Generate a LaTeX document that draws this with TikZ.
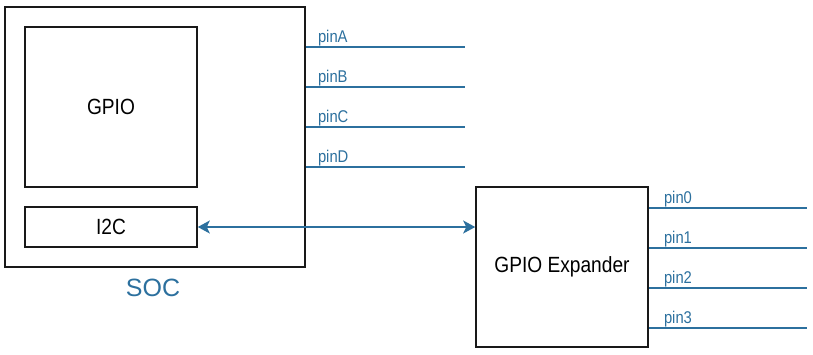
\documentclass[tikz,border=0pt]{standalone}
\usepackage{fontspec}
\setmainfont{Liberation Sans}
\usetikzlibrary{arrows.meta}
\definecolor{pinblue}{RGB}{44,112,158}
\newcommand{\narrow}[1]{\scalebox{0.87}[1]{#1}}
\tikzset{
  blk/.style={draw=black!90, line width=1.6pt, inner sep=0pt},
  blktext/.style={font=\fontsize{22}{24}\selectfont},
  pinline/.style={draw=pinblue, line width=1.6pt},
  pinlabel/.style={text=pinblue, font=\fontsize{17}{19}\selectfont, anchor=base west, inner sep=0pt},
  busarrow/.style={draw=pinblue, line width=1.6pt, {Stealth[length=12pt,width=13pt,inset=3pt]}-{Stealth[length=12pt,width=13pt,inset=3pt]}}
}
\begin{document}
\begin{tikzpicture}[x=1pt,y=-1pt]
\useasboundingbox (0,0) rectangle (813,354);
\node[blk, minimum width=300pt, minimum height=260pt] (soc) at (155,137) {};
\node[blk, minimum width=172pt, minimum height=160pt] (gpio) at (111,107) {};
\node[blktext] (gpiot) at (gpio.center) {\narrow{GPIO}};
\node[blk, minimum width=172pt, minimum height=40pt] (i2c) at (111,227) {};
\node[blktext] (i2ct) at (i2c.center) {\narrow{I2C}};
\node[text=pinblue, font=\fontsize{25}{27}\selectfont] (soct) at (153,288) {SOC};
\node[blk, minimum width=172pt, minimum height=160pt] (exp) at (562,267) {};
\node[blktext] (expt) at (exp.center) {\narrow{GPIO Expander}};
% SOC pins
\coordinate (pA) at (465,47);
\coordinate (pB) at (465,87);
\coordinate (pC) at (465,127);
\coordinate (pD) at (465,167);
\foreach \p/\t in {pA/pinA,pB/pinB,pC/pinC,pD/pinD}{
  \draw[pinline] (soc.east |- \p) -- (\p);
  \node[pinlabel] (l\p) at ([xshift=12pt,yshift=4.5pt]soc.east |- \p) {\narrow{\t}};
}
% Expander pins
\coordinate (p0) at (807,208);
\coordinate (p1) at (807,248);
\coordinate (p2) at (807,288);
\coordinate (p3) at (807,328);
\foreach \p/\t in {p0/pin0,p1/pin1,p2/pin2,p3/pin3}{
  \draw[pinline] (exp.east |- \p) -- (\p);
  \node[pinlabel] (l\p) at ([xshift=15pt,yshift=4.5pt]exp.east |- \p) {\narrow{\t}};
}
\draw[busarrow] (i2c.east) -- (exp.west |- i2c.east);
\end{tikzpicture}
\end{document}
